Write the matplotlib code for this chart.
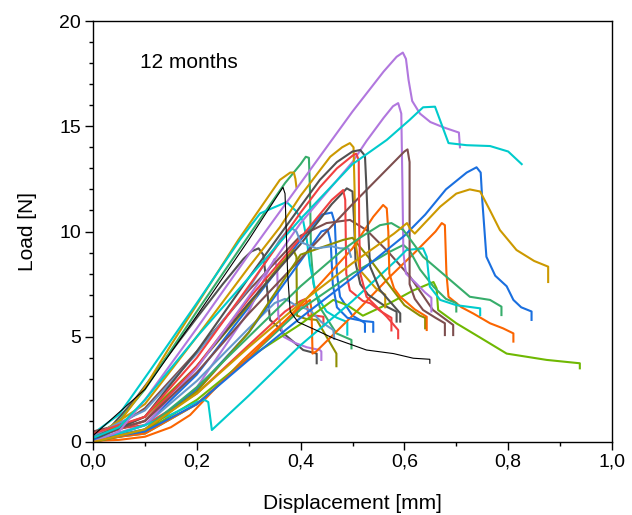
import matplotlib
matplotlib.use("Agg")
import matplotlib.pyplot as plt
from matplotlib.ticker import MultipleLocator, FuncFormatter

plt.rcParams['font.family'] = ['Liberation Sans', 'DejaVu Sans']

# load-displacement curves (x in mm, y in N)
x_p1 = [0, 0.05, 0.1, 0.2, 0.3, 0.4, 0.5, 0.56, 0.585, 0.597, 0.603, 0.608, 0.615, 0.63, 0.65, 0.675, 0.705, 0.707]
y_p1 = [0, 0.5, 2.0, 5.4, 8.9, 12.3, 15.7, 17.6, 18.3, 18.5, 18.2, 17.2, 16.2, 15.6, 15.2, 14.95, 14.7, 14.0]
x_p2 = [0, 0.1, 0.2, 0.3, 0.4, 0.5, 0.527, 0.56, 0.578, 0.588, 0.594, 0.596, 0.598, 0.603, 0.62, 0.64, 0.652, 0.652]
y_p2 = [0, 0.8, 3.5, 6.9, 10.4, 13.3, 14.3, 15.4, 15.95, 16.1, 15.6, 12.5, 9.0, 8.0, 7.6, 7.1, 6.85, 6.2]
x_p3 = [0, 0.1, 0.2, 0.3, 0.335, 0.35, 0.355, 0.357, 0.367, 0.39, 0.412, 0.437, 0.44, 0.44]
y_p3 = [0, 0.5, 2.6, 6.2, 8.0, 8.7, 8.2, 6.0, 5.0, 4.7, 4.5, 4.37, 4.3, 3.9]
x_c1 = [0, 0.05, 0.1, 0.2, 0.3, 0.4, 0.5, 0.566, 0.61, 0.636, 0.659, 0.67, 0.685, 0.72, 0.765, 0.8, 0.826]
y_c1 = [0.2, 0.7, 2.0, 5.0, 7.8, 10.6, 13.2, 14.35, 15.3, 15.9, 15.93, 15.2, 14.2, 14.1, 14.06, 13.8, 13.2]
x_c2 = [0, 0.05, 0.1, 0.15, 0.2, 0.215, 0.222, 0.229, 0.3, 0.4, 0.5, 0.585, 0.604, 0.636, 0.643, 0.649, 0.669, 0.7, 0.746, 0.746]
y_c2 = [0.2, 0.4, 0.8, 1.3, 1.9, 2.0, 1.9, 0.57, 2.2, 4.6, 6.7, 8.65, 9.12, 9.2, 8.8, 7.38, 6.75, 6.5, 6.35, 6.03]
x_c3 = [0, 0.05, 0.11, 0.2, 0.283, 0.322, 0.373, 0.39, 0.405, 0.412, 0.418, 0.43, 0.45, 0.47, 0.49, 0.49]
y_c3 = [0.4, 1.3, 3.4, 6.6, 9.6, 10.86, 11.4, 11.0, 10.5, 9.6, 8.4, 7.0, 6.2, 5.9, 5.7, 5.1]
x_br1 = [0, 0.1, 0.2, 0.3, 0.4, 0.5, 0.6, 0.606, 0.61, 0.61, 0.62, 0.636, 0.66, 0.678, 0.678]
y_br1 = [0.3, 1.0, 3.3, 6.1, 8.7, 11.3, 13.8, 13.9, 13.3, 7.5, 6.8, 6.27, 5.9, 5.64, 5.08]
x_br2 = [0, 0.05, 0.1, 0.2, 0.3, 0.4, 0.45, 0.495, 0.527, 0.57, 0.611, 0.655, 0.694, 0.694]
y_br2 = [0.5, 0.8, 1.6, 4.3, 7.2, 9.8, 10.4, 10.55, 10.07, 9.0, 7.85, 6.27, 5.56, 5.08]
x_b1 = [0, 0.1, 0.2, 0.3, 0.4, 0.5, 0.6, 0.64, 0.68, 0.72, 0.739, 0.747, 0.75, 0.758, 0.775, 0.797, 0.81, 0.825, 0.845, 0.845]
y_b1 = [0.1, 0.5, 1.8, 3.9, 5.9, 7.8, 9.8, 10.8, 12.0, 12.8, 13.05, 12.8, 11.5, 8.8, 7.9, 7.4, 6.75, 6.4, 6.2, 5.8]
x_b2 = [0, 0.1, 0.2, 0.3, 0.4, 0.44, 0.46, 0.466, 0.47, 0.476, 0.5, 0.521, 0.524, 0.524]
y_b2 = [0, 0.8, 3.2, 6.4, 9.6, 10.8, 10.9, 10.4, 8.0, 6.9, 6.0, 5.7, 5.64, 5.24]
x_b3 = [0, 0.1, 0.2, 0.3, 0.4, 0.44, 0.452, 0.458, 0.462, 0.47, 0.49, 0.52, 0.54, 0.54]
y_b3 = [0.1, 0.6, 2.5, 5.2, 8.6, 10.0, 10.1, 9.5, 7.5, 6.4, 5.9, 5.75, 5.7, 5.24]
x_g1 = [0, 0.1, 0.2, 0.3, 0.4, 0.5, 0.58, 0.605, 0.612, 0.62, 0.669, 0.7, 0.726, 0.746, 0.765, 0.784, 0.816, 0.85, 0.877, 0.877]
y_g1 = [0, 0.6, 2.3, 4.5, 6.6, 8.5, 9.9, 10.4, 10.1, 9.9, 11.18, 11.8, 12.0, 11.9, 11.0, 10.07, 9.12, 8.6, 8.33, 7.6]
x_g2 = [0, 0.05, 0.1, 0.15, 0.206, 0.28, 0.36, 0.38, 0.387, 0.39, 0.392]
y_g2 = [0.1, 0.9, 2.6, 4.6, 6.75, 9.6, 12.45, 12.8, 12.8, 12.5, 12.1]
x_g3 = [0, 0.1, 0.2, 0.3, 0.36, 0.4, 0.457, 0.48, 0.495, 0.502, 0.504, 0.505, 0.514, 0.545, 0.563, 0.563]
y_g3 = [0.2, 1.8, 5.0, 8.3, 10.2, 11.7, 13.55, 14.0, 14.2, 14.0, 12.0, 9.6, 8.17, 7.3, 7.0, 6.4]
x_o1 = [0, 0.05, 0.1, 0.15, 0.187, 0.23, 0.289, 0.35, 0.4, 0.418, 0.421, 0.423, 0.43, 0.5, 0.572, 0.62, 0.66, 0.672,
        0.678, 0.681, 0.685, 0.71, 0.733, 0.765, 0.79, 0.81, 0.81]
y_o1 = [0.05, 0.1, 0.25, 0.7, 1.28, 2.4, 3.9, 5.3, 6.4, 6.75, 6.3, 4.2, 4.3, 6.0, 7.85, 9.0, 10.0, 10.4,
        10.3, 8.0, 6.9, 6.4, 6.1, 5.64, 5.4, 5.16, 4.77]
x_o3 = [0, 0.1, 0.2, 0.3, 0.4, 0.5, 0.54, 0.559, 0.566, 0.569, 0.571, 0.58, 0.592, 0.62, 0.643, 0.643]
y_o3 = [0.1, 0.4, 1.8, 4.0, 6.5, 9.2, 10.7, 11.26, 11.1, 10.0, 8.0, 7.3, 6.9, 6.3, 5.95, 5.32]
x_l1 = [0, 0.1, 0.2, 0.3, 0.4, 0.463, 0.49, 0.52, 0.572, 0.617, 0.656, 0.662, 0.665, 0.7, 0.75, 0.797, 0.874, 0.938, 0.938]
y_l1 = [0.1, 0.5, 2.0, 4.0, 5.6, 6.75, 6.5, 6.0, 6.6, 7.2, 7.6, 7.3, 6.27, 5.64, 4.9, 4.2, 3.9, 3.74, 3.5]
x_gr1 = [0, 0.1, 0.2, 0.3, 0.4, 0.48, 0.514, 0.553, 0.575, 0.598, 0.636, 0.681, 0.726, 0.765, 0.787, 0.787]
y_gr1 = [0, 0.6, 2.6, 5.0, 7.4, 9.1, 9.7, 10.3, 10.4, 10.07, 8.8, 7.85, 6.9, 6.75, 6.43, 6.03]
x_gr2 = [0, 0.1, 0.2, 0.3, 0.4, 0.5, 0.572, 0.598, 0.61, 0.63, 0.656, 0.68, 0.7, 0.7]
y_gr2 = [0.1, 0.4, 1.8, 4.0, 6.3, 8.0, 9.04, 9.36, 9.1, 8.2, 7.38, 6.8, 6.6, 6.2]
x_gr3 = [0, 0.05, 0.1, 0.2, 0.3, 0.37, 0.4, 0.41, 0.416, 0.418, 0.42, 0.425, 0.437, 0.469, 0.498, 0.498]
y_gr3 = [0.2, 1.0, 2.5, 6.2, 9.8, 12.3, 13.2, 13.55, 13.5, 12.0, 9.0, 7.5, 6.4, 5.16, 4.85, 4.45]
x_k1 = [0, 0.1, 0.2, 0.3, 0.35, 0.366, 0.37, 0.375, 0.38, 0.395, 0.431, 0.463, 0.527, 0.579, 0.617, 0.649, 0.649]
y_k1 = [0.3, 2.5, 6.0, 9.6, 11.5, 12.1, 11.8, 8.0, 6.2, 5.7, 5.3, 4.93, 4.37, 4.2, 3.98, 3.93, 3.74]
x_dg1 = [0, 0.03, 0.08, 0.129, 0.2, 0.25, 0.29, 0.305, 0.319, 0.328, 0.335, 0.341, 0.355, 0.367, 0.405, 0.431, 0.431]
y_dg1 = [0.3, 0.6, 2.0, 3.6, 5.9, 7.5, 8.7, 9.05, 9.2, 8.9, 7.4, 5.8, 5.5, 5.16, 4.37, 4.2, 3.74]
x_dg2 = [0, 0.1, 0.2, 0.3, 0.4, 0.437, 0.47, 0.5, 0.515, 0.524, 0.527, 0.53, 0.534, 0.553, 0.592, 0.592]
y_dg2 = [0.1, 1.2, 4.3, 7.8, 11.2, 12.45, 13.3, 13.8, 13.87, 13.6, 12.0, 10.07, 8.33, 7.22, 6.11, 5.72]
x_dg3 = [0, 0.1, 0.2, 0.3, 0.4, 0.46, 0.489, 0.5, 0.503, 0.506, 0.515, 0.53, 0.56, 0.585, 0.585]
y_dg3 = [0.2, 1.0, 3.6, 6.6, 9.4, 11.3, 12.05, 11.9, 10.5, 8.5, 7.5, 7.0, 6.5, 6.19, 5.72]
x_r1 = [0, 0.1, 0.2, 0.3, 0.4, 0.437, 0.47, 0.5, 0.507, 0.512, 0.513, 0.515, 0.527, 0.566, 0.588, 0.588]
y_r1 = [0.4, 1.2, 4.0, 7.4, 10.9, 12.1, 13.0, 13.6, 13.7, 13.4, 10.0, 8.0, 6.9, 5.95, 5.32, 4.93]
x_r2 = [0, 0.1, 0.2, 0.3, 0.4, 0.46, 0.482, 0.486, 0.488, 0.495, 0.52, 0.534, 0.555, 0.575, 0.575]
y_r2 = [0.2, 1.0, 3.6, 6.8, 9.7, 11.5, 11.97, 11.5, 8.0, 7.2, 6.7, 6.59, 6.2, 5.9, 5.3]
x_r3 = [0, 0.1, 0.2, 0.3, 0.37, 0.4, 0.41, 0.413, 0.415, 0.43, 0.444, 0.444]
y_r3 = [0.5, 0.8, 2.3, 4.6, 6.2, 6.7, 6.8, 6.4, 6.0, 6.0, 5.95, 5.5]
x_ol1 = [0, 0.1, 0.2, 0.3, 0.36, 0.386, 0.392, 0.393, 0.41, 0.431, 0.45, 0.469, 0.469]
y_ol1 = [0.3, 1.2, 3.6, 6.5, 8.4, 9.12, 8.8, 6.0, 5.85, 5.8, 5.0, 4.2, 3.6]
x_ol2 = [0, 0.1, 0.2, 0.3, 0.4, 0.482, 0.5, 0.53, 0.56, 0.6, 0.63, 0.64, 0.64]
y_ol2 = [0, 0.5, 2.4, 5.2, 8.9, 9.6, 9.7, 8.8, 7.8, 6.5, 6.0, 5.9, 5.4]
x_sb1 = [0, 0.1, 0.2, 0.3, 0.36, 0.38, 0.392, 0.4, 0.43, 0.46, 0.476, 0.492, 0.497]
y_sb1 = [0.3, 1.5, 4.2, 7.3, 9.6, 10.2, 10.0, 9.5, 9.2, 9.3, 9.2, 9.2, 8.8]
x_sb2 = [0, 0.1, 0.2, 0.3, 0.35, 0.37, 0.39, 0.418, 0.44, 0.463, 0.465]
y_sb2 = [0.1, 0.8, 2.9, 5.4, 6.6, 6.8, 6.5, 6.27, 5.7, 5.32, 4.9]

dark = '#515151'
red = '#F14040'
blue = '#1A6FDF'
green = '#37AD6B'
purple = '#B177DE'
gold = '#CC9900'
cyan = '#00CBCC'
brown = '#7D4E4E'
olive = '#8E8E00'
orange = '#FB6501'
steel = '#6699CC'
lime = '#6FB802'

series = [
    (x_dg1, y_dg1, dark), (x_r3, y_r3, red), (x_b2, y_b2, blue), (x_gr3, y_gr3, green),
    (x_p3, y_p3, purple), (x_g2, y_g2, gold), (x_c3, y_c3, cyan), (x_br2, y_br2, brown),
    (x_ol1, y_ol1, olive), (x_o1, y_o1, orange), (x_sb2, y_sb2, steel), (x_l1, y_l1, lime),
    (x_dg3, y_dg3, dark), (x_r2, y_r2, red), (x_b3, y_b3, blue), (x_gr2, y_gr2, green),
    (x_p2, y_p2, purple), (x_g3, y_g3, gold), (x_c2, y_c2, cyan), (x_br1, y_br1, brown),
    (x_ol2, y_ol2, olive), (x_o3, y_o3, orange), (x_sb1, y_sb1, steel),
    (x_dg2, y_dg2, dark), (x_r1, y_r1, red), (x_b1, y_b1, blue), (x_gr1, y_gr1, green),
    (x_p1, y_p1, purple), (x_g1, y_g1, gold), (x_c1, y_c1, cyan),
]

fig = plt.figure(figsize=(6.32, 5.15), dpi=100)
ax = fig.add_axes([93 / 632, 73 / 515, 519 / 632, 421 / 515])

for xs, ys, col in series:
    ax.plot(xs, ys, color=col, lw=1.5)
ax.plot(x_k1, y_k1, color='black', lw=0.8)

ax.set_xlim(0, 1.0)
ax.set_ylim(0, 20)
ax.xaxis.set_major_locator(MultipleLocator(0.2))
ax.xaxis.set_minor_locator(MultipleLocator(0.1))
ax.yaxis.set_major_locator(MultipleLocator(5))
ax.yaxis.set_minor_locator(MultipleLocator(1))
ax.xaxis.set_major_formatter(FuncFormatter(lambda v, p: f"{v:.1f}".replace('.', ',')))
ax.yaxis.set_major_formatter(FuncFormatter(lambda v, p: f"{v:.0f}"))
ax.tick_params(which='major', direction='out', length=5.5, width=1, labelsize=14, pad=3)
ax.tick_params(which='minor', direction='out', length=3, width=1)
for s in ax.spines.values():
    s.set_linewidth(1)

ax.set_xlabel('Displacement [mm]', fontsize=15, labelpad=17)
ax.set_ylabel('Load [N]', fontsize=15, labelpad=16)
ax.text(0.09, 18.05, '12 months', fontsize=15, va='center')

fig.savefig('out.png', dpi=100)
